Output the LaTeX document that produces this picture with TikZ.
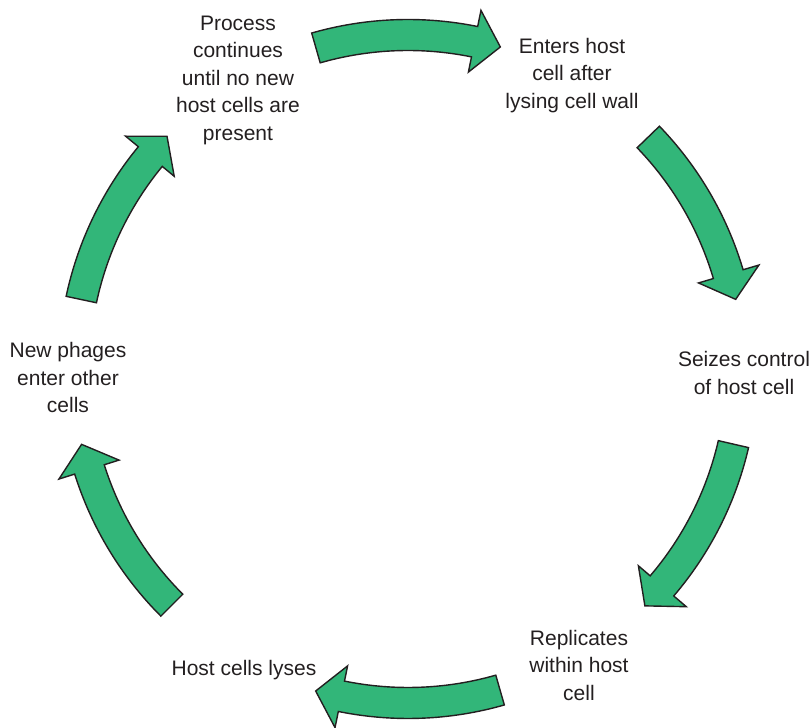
\documentclass[tikz,border=0pt]{standalone}
\usepackage{fontspec}
\setmainfont{Liberation Sans}
\definecolor{arrowgreen}{RGB}{50,182,121}
\definecolor{inkdark}{RGB}{35,31,32}
\tikzset{
  cyclearrow/.style={fill=arrowgreen, draw=inkdark, line width=1.4pt, line join=miter},
  steplabel/.style={align=center, text=inkdark, inner sep=0pt, font=\fontsize{21}{27.5}\selectfont}
}
\newcommand{\cyclearrowat}[1]{%
  \pgfmathsetmacro{\ta}{#1+16}%
  \pgfmathsetmacro{\ba}{#1-11.5}%
  \pgfmathsetmacro{\pa}{#1-16}%
  \draw[cyclearrow] ([shift={(\ta:349.5pt)}]C) arc[start angle=\ta, end angle=\ba, radius=349.5pt]
    -- ([shift={(\ba:366pt)}]C) -- ([shift={(\pa:335pt)}]C) -- ([shift={(\ba:303pt)}]C)
    -- ([shift={(\ba:318.5pt)}]C) arc[start angle=\ba, end angle=\ta, radius=318.5pt] -- cycle;}
\begin{document}
\begin{tikzpicture}[x=1pt,y=1pt]
\useasboundingbox (0,0) rectangle (812,728);
\coordinate (C) at (408,359);
\cyclearrowat{90}
\cyclearrowat{28}
\cyclearrowat{-29}
\cyclearrowat{-90}
\cyclearrowat{-151}
\cyclearrowat{152}
\node[steplabel] (process) at (238,648) {Process\\continues\\until no new\\host cells are\\present};
\node[steplabel] (enters) at (572,652.5) {Enters host\\cell after\\lysing cell wall};
\node[steplabel] (seizes) at (744,355) {Seizes control\\of host cell};
\node[steplabel] (replicates) at (579,63) {Replicates\\within host\\cell};
\node[steplabel] (lyses) at (244,57.5) {Host cells lyses};
\node[steplabel] (newphages) at (68,350.5) {New phages\\enter other\\cells};
\end{tikzpicture}
\end{document}
